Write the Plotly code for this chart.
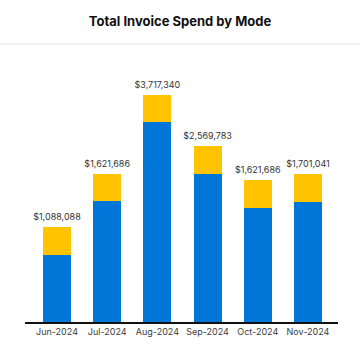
import plotly.graph_objects as go

months = ["Jun-2024", "Jul-2024", "Aug-2024", "Sep-2024", "Oct-2024", "Nov-2024"]
mode_a = [1077000, 1930000, 3194000, 2362000, 1824000, 1914000]
mode_b = [443000, 443000, 443000, 448000, 453000, 448000]
total_labels = ["$1,088,088", "$1,621,686", "$3,717,340", "$2,569,783", "$1,621,686", "$1,701,041"]

FONT = "Inter, Roboto, sans-serif"
stack_tops = [a + b for a, b in zip(mode_a, mode_b)]

fig = go.Figure()
fig.add_trace(go.Bar(x=months, y=mode_a, marker=dict(color="#0176D9", line=dict(width=0)),
                     width=0.56, name="Mode A"))
fig.add_trace(go.Bar(x=months, y=mode_b, marker=dict(color="#FFC300", line=dict(width=0)),
                     width=0.56, name="Mode B"))
fig.add_trace(go.Scatter(x=months, y=stack_tops, mode="markers+text", text=total_labels,
                         textposition="top center", marker=dict(size=6, opacity=0),
                         textfont=dict(family=FONT, size=9, color="#333333"),
                         cliponaxis=False, hoverinfo="skip"))

fig.update_layout(
    barmode="stack",
    width=360, height=360,
    margin=dict(l=25, r=22, t=60, b=38),
    paper_bgcolor="white", plot_bgcolor="white",
    showlegend=False,
    title=dict(text="<b>Total Invoice Spend by Mode</b>", x=0.5, xanchor="center",
               y=1 - 21 / 360, yanchor="middle",
               font=dict(family=FONT, size=13, color="#111111")),
    xaxis=dict(showline=True, linecolor="#111111", linewidth=2, showgrid=False,
               ticks="", range=[-0.637, 5.598],
               tickfont=dict(family=FONT, size=9, color="#3a3a3a")),
    yaxis=dict(visible=False, range=[0, 4192000], showgrid=False),
    shapes=[dict(type="line", xref="paper", yref="paper",
                 x0=-25 / 313, x1=335 / 313, y0=(322 - 44) / 262, y1=(322 - 44) / 262,
                 line=dict(color="#E8E8E8", width=1))],
)

fig.write_html("out.html", config={"displayModeBar": False},
               post_script="document.body.style.margin='0';")
